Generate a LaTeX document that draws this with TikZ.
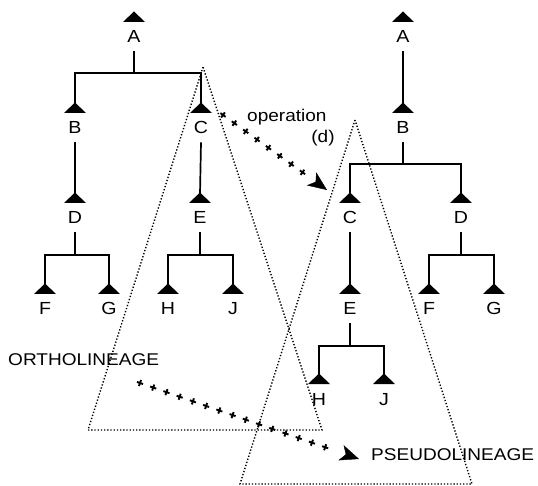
\documentclass[tikz,border=0pt]{standalone}
\usepackage{fontspec}
\newfontfamily\diafont[FakeStretch=1.12]{Liberation Sans}
\usetikzlibrary{arrows.meta,decorations.markings}

\tikzset{
  branch/.style={line width=1.7pt},
  lab/.style={font=\diafont\fontsize{17.5}{19}\selectfont, anchor=base,
              inner xsep=0pt, inner ysep=8pt},
  txt/.style={font=\diafont\fontsize{17}{19}\selectfont, anchor=base west,
              inner sep=0pt},
  hull/.style={line width=1.4pt, dash pattern=on 1.3pt off 1.9pt},
  plusarrow/.style={
    decoration={markings,
      mark=between positions 0 and #1 step 14pt with
        {\draw[line width=1.9pt] (-3.2pt,0pt) -- (3.2pt,0pt) (0pt,-3.2pt) -- (0pt,3.2pt);},
      mark=at position 1 with
        {\arrow{Stealth[length=19pt,width=16pt,inset=5pt]}}},
    postaction={decorate}},
  taxon/.pic={
    \fill (-11,0) -- (11,0) -- (0,-10.5) -- cycle;
    \coordinate (-top) at (0,-9);
    \node[lab] (-lab) at (0,21) {#1};
  }
}

\begin{document}
\begin{tikzpicture}[x=1pt, y=-1pt]
\useasboundingbox (0,0) rectangle (538,486);

% ---- tree before the operation ----
\pic (LA) at (134,22)  {taxon=A};
\pic (LB) at (75,113)  {taxon=B};
\pic (LC) at (201,113) {taxon=C};
\pic (LD) at (75,203)  {taxon=D};
\pic (LE) at (200,203) {taxon=E};
\pic (LF) at (45,294)  {taxon=F};
\pic (LG) at (109,294) {taxon=G};
\pic (LH) at (168,294) {taxon=H};
\pic (LJ) at (233,294) {taxon=J};

\coordinate (LjA) at (134,73);
\coordinate (LjD) at (75,255);
\coordinate (LjE) at (200,255);

\draw[branch] (LA-lab.south) -- (LjA);
\draw[branch] (LB-top) |- (LjA) -| (LC-top);
\draw[branch] (LB-lab.south) -- (LD-top);
\draw[branch] (LC-lab.south) -- (LE-top);
\draw[branch] (LD-lab.south) -- (LjD);
\draw[branch] (LF-top) |- (LjD) -| (LG-top);
\draw[branch] (LE-lab.south) -- (LjE);
\draw[branch] (LH-top) |- (LjE) -| (LJ-top);

% ---- tree after the operation ----
\pic (RA) at (403,22)  {taxon=A};
\pic (RB) at (403,113) {taxon=B};
\pic (RC) at (350,203) {taxon=C};
\pic (RD) at (461,203) {taxon=D};
\pic (RE) at (350,294) {taxon=E};
\pic (RF) at (429,294) {taxon=F};
\pic (RG) at (494,294) {taxon=G};
\pic (RH) at (319,384) {taxon=H};
\pic (RJ) at (384,384) {taxon=J};

\coordinate (RjB) at (403,164);
\coordinate (RjD) at (461,255);
\coordinate (RjE) at (350,346);

\draw[branch] (RA-lab.south) -- (RB-top);
\draw[branch] (RB-lab.south) -- (RjB);
\draw[branch] (RC-top) |- (RjB) -| (RD-top);
\draw[branch] (RC-lab.south) -- (RE-top);
\draw[branch] (RD-lab.south) -- (RjD);
\draw[branch] (RF-top) |- (RjD) -| (RG-top);
\draw[branch] (RE-lab.south) -- (RjE);
\draw[branch] (RH-top) |- (RjE) -| (RJ-top);

% ---- dotted lineage outlines ----
\coordinate (o1) at (203,67);
\coordinate (o2) at (88,430);
\coordinate (o3) at (322,430);
\draw[hull] (o1) -- (o2) -- (o3) -- cycle;

\coordinate (p1) at (355,120);
\coordinate (p2) at (240,484);
\coordinate (p3) at (472,484);
\draw[hull] (p1) -- (p2) -- (p3) -- cycle;

% ---- labels and arrows ----
\node[txt] (op) at (247,121.5) {operation};
\node[txt, anchor=base] (opd) at (323,143) {(d)};
\node[txt] (ortho) at (8,365) {ORTHOLINEAGE};
\node[txt] (pseudo) at (371,460) {PSEUDOLINEAGE};

\coordinate (opfrom) at (223,115);
\coordinate (opto) at (327,190);
\path[plusarrow=0.8] (opfrom) -- (opto);

\coordinate (orfrom) at (140,383);
\coordinate (orto) at (359,459);
\path[plusarrow=0.86] (orfrom) -- (orto);
\end{tikzpicture}
\end{document}
